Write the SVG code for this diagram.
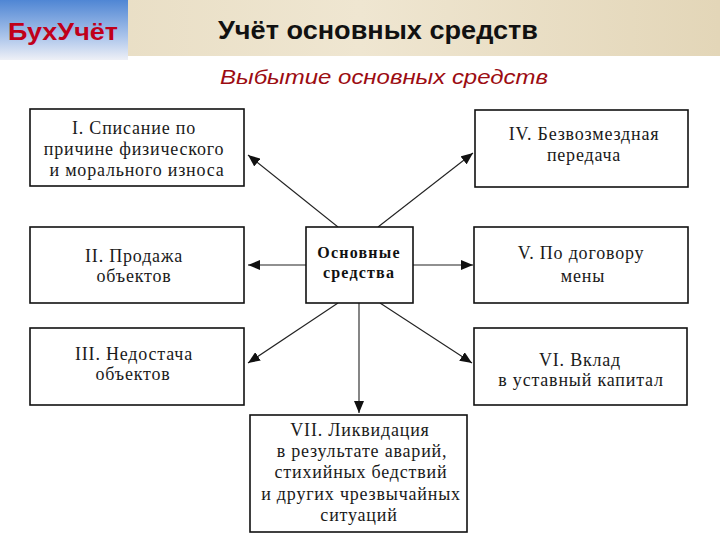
<svg xmlns="http://www.w3.org/2000/svg" width="720" height="540" viewBox="0 0 720 540">
<defs>
<linearGradient id="logo" x1="0" y1="0" x2="0" y2="1">
<stop offset="0" stop-color="#4f86d4"/>
<stop offset="0.6" stop-color="#a9c3ea"/>
<stop offset="1" stop-color="#eef0f6"/>
</linearGradient>
<linearGradient id="parch" x1="0" y1="0" x2="1" y2="0">
<stop offset="0" stop-color="#e6dbc0"/>
<stop offset="0.5" stop-color="#efe6d1"/>
<stop offset="1" stop-color="#e3d6b8"/>
</linearGradient>
<marker id="ah" viewBox="0 0 12 10" refX="12" refY="5" markerWidth="12" markerHeight="10" markerUnits="userSpaceOnUse" orient="auto">
<path d="M0,0 L12,5 L0,10 Z" fill="#111"/>
</marker>
<style>
.box{fill:#fff;stroke:#111;stroke-width:1.6}
.t{font-family:"Liberation Serif","Times New Roman",serif;font-size:18px;fill:#1a1a1a;text-anchor:middle;letter-spacing:0.8px}
.c{font-family:"Liberation Serif","Times New Roman",serif;font-size:16px;font-weight:bold;fill:#111;text-anchor:middle;letter-spacing:1.2px}
.ln{stroke:#222;stroke-width:1.1;fill:none;marker-end:url(#ah)}
</style>
</defs>
<rect x="0" y="0" width="720" height="540" fill="#fff"/>
<g id="header">
<rect x="0" y="0" width="720" height="56" fill="url(#parch)"/>
<rect x="0" y="0" width="128" height="60" fill="url(#logo)"/>
<text x="63" y="40" font-family="'Liberation Sans',Arial,sans-serif" font-size="24" font-weight="bold" fill="#c0001a" text-anchor="middle" textLength="110" lengthAdjust="spacingAndGlyphs">БухУчёт</text>
<text x="378" y="39" font-family="'Liberation Sans',Arial,sans-serif" font-size="25" font-weight="bold" fill="#111" text-anchor="middle" textLength="320" lengthAdjust="spacingAndGlyphs">Учёт основных средств</text>
<text x="384" y="84" font-family="'Liberation Sans',Arial,sans-serif" font-size="21" font-style="italic" fill="#9c0c12" text-anchor="middle" textLength="328" lengthAdjust="spacingAndGlyphs">Выбытие основных средств</text>
</g>
<g id="connectors">
<line class="ln" x1="338" y1="227" x2="248" y2="155"/>
<line class="ln" x1="378" y1="227" x2="473" y2="153"/>
<line class="ln" x1="306" y1="265" x2="248" y2="265"/>
<line class="ln" x1="413" y1="265" x2="473" y2="265"/>
<line class="ln" x1="338" y1="303" x2="248" y2="363"/>
<line class="ln" x1="380" y1="303" x2="472" y2="363"/>
<line class="ln" x1="359" y1="303" x2="359" y2="413"/>
</g>
<g id="n1">
<rect class="box" x="30" y="109" width="214" height="77"/>
<text class="t" x="134" y="134">I. Списание по</text>
<text class="t" x="134" y="155">причине физического</text>
<text class="t" x="137" y="176">и морального износа</text>
</g>
<g id="n2">
<rect class="box" x="30" y="227" width="214" height="76"/>
<text class="t" x="134" y="262">II. Продажа</text>
<text class="t" x="134" y="282">объектов</text>
</g>
<g id="n3">
<rect class="box" x="30" y="328" width="214" height="77"/>
<text class="t" x="134" y="360">III. Недостача</text>
<text class="t" x="133" y="380">объектов</text>
</g>
<g id="center">
<rect class="box" x="306" y="227" width="107" height="76"/>
<text class="c" x="359" y="258">Основные</text>
<text class="c" x="359" y="278">средства</text>
</g>
<g id="n4">
<rect class="box" x="475" y="110" width="213" height="77"/>
<text class="t" x="584" y="140">IV. Безвозмездная</text>
<text class="t" x="584" y="161">передача</text>
</g>
<g id="n5">
<rect class="box" x="474" y="227" width="214" height="76"/>
<text class="t" x="581" y="259">V. По договору</text>
<text class="t" x="583" y="282">мены</text>
</g>
<g id="n6">
<rect class="box" x="474" y="328" width="213" height="77"/>
<text class="t" x="580" y="366">VI. Вклад</text>
<text class="t" x="581" y="386">в уставный капитал</text>
</g>
<g id="n7">
<rect class="box" x="250" y="415" width="217" height="117"/>
<text class="t" x="360" y="436">VII. Ликвидация</text>
<text class="t" x="362" y="457">в результате аварий,</text>
<text class="t" x="361" y="478">стихийных бедствий</text>
<text class="t" x="361" y="500">и других чрезвычайных</text>
<text class="t" x="359" y="521">ситуаций</text>
</g>
</svg>
